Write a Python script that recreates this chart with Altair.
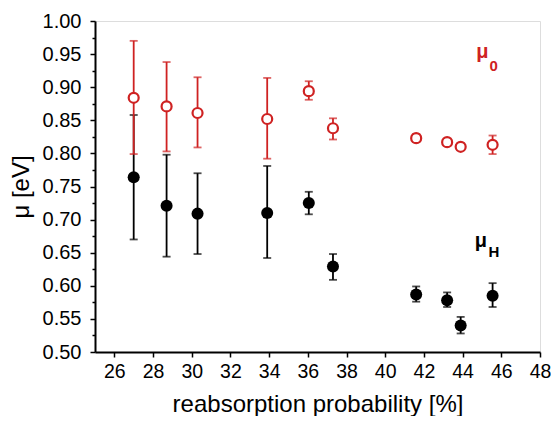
import altair as alt
import pandas as pd

# reabsorption probability [%]
x_vals = [27.0, 28.7, 30.3, 33.9, 36.05, 37.3, 41.6, 43.2, 43.9, 45.55]
# mu_0 (red, open circles)
mu0 = [0.884, 0.871, 0.861, 0.852, 0.894, 0.838, 0.823, 0.817, 0.810, 0.813]
mu0_lo = [0.799, 0.803, 0.809, 0.792, 0.881, 0.821, 0.817, 0.812, 0.805, 0.799]
mu0_hi = [0.970, 0.938, 0.915, 0.914, 0.909, 0.853, 0.829, 0.822, 0.815, 0.827]
# mu_H (black, filled circles)
muH = [0.764, 0.721, 0.709, 0.710, 0.725, 0.629, 0.587, 0.578, 0.540, 0.585]
muH_lo = [0.670, 0.644, 0.648, 0.642, 0.708, 0.609, 0.576, 0.568, 0.528, 0.568]
muH_hi = [0.858, 0.798, 0.770, 0.781, 0.742, 0.648, 0.599, 0.590, 0.553, 0.604]

x_ticks = list(range(26, 49))
y_major = [0.50, 0.55, 0.60, 0.65, 0.70, 0.75, 0.80, 0.85, 0.90, 0.95, 1.00]
y_minor = [0.525, 0.575, 0.625, 0.675, 0.725, 0.775, 0.825, 0.875, 0.925, 0.975]

RED = "#cf2222"
FONT = "Liberation Sans"

df0 = pd.DataFrame({"x": x_vals, "y": mu0, "lo": mu0_lo, "hi": mu0_hi})
dfH = pd.DataFrame({"x": x_vals, "y": muH, "lo": muH_lo, "hi": muH_hi})

xscale = alt.Scale(domain=[25, 48], nice=False, zero=False)
yscale = alt.Scale(domain=[0.5, 1.0], nice=False, zero=False)

common = dict(labelFont=FONT, titleFont=FONT, titleFontWeight="normal",
              labelColor="black", titleColor="black", tickColor="black",
              domainColor="black", domainWidth=2, tickWidth=1.5, grid=False,
              labelOverlap=False, labelFlush=False)

xaxis = alt.Axis(
    title="reabsorption probability [%]",
    values=x_ticks,
    labelExpr="datum.value % 2 === 0 ? datum.value : ''",
    tickSize={"condition": {"test": "datum.value % 2 === 0", "value": 5}, "value": 3},
    labelFontSize=19.5, titleFontSize=24, labelPadding=5, titlePadding=12,
    **common,
)
yaxis_major = alt.Axis(
    title="μ [eV]", orient="left", values=y_major, format=".2f",
    tickSize=5, labelFontSize=20, titleFontSize=24, labelPadding=9, titlePadding=9,
    **common,
)
yaxis_minor = alt.Axis(
    title=None, orient="left", values=y_minor, labels=False, domain=False,
    tickSize=3, tickWidth=1.5, tickColor="black", grid=False,
)

X = alt.X("x:Q", scale=xscale, axis=xaxis)


def Y(field, axis=None):
    return alt.Y(field, scale=yscale, axis=axis)


def series(df, color, filled, first):
    base = alt.Chart(df)
    bars = base.mark_rule(color=color, strokeWidth=1.8).encode(
        x=X, y=Y("lo:Q", yaxis_major if first else None), y2="hi:Q",
    )
    cap_lo = base.mark_tick(color=color, orient="horizontal", size=8, thickness=1.8).encode(
        x=X, y=Y("lo:Q", yaxis_minor if first else None)
    )
    cap_hi = base.mark_tick(color=color, orient="horizontal", size=8, thickness=1.8).encode(
        x=X, y=Y("hi:Q")
    )
    if filled:
        pts = base.mark_point(shape="circle", filled=True, color=color, size=145, opacity=1)
    else:
        pts = base.mark_point(shape="circle", filled=True, fill="white", stroke=color,
                              strokeWidth=2.2, size=100, opacity=1)
    pts = pts.encode(x=X, y=Y("y:Q"))
    return [bars, cap_lo, cap_hi, pts]


def label(main, sub, x0, y0, xs, ys, color):
    m = alt.Chart().mark_text(text=main, color=color, fontSize=20, fontWeight="bold",
                              font=FONT, align="left", baseline="alphabetic").encode(
        x=alt.datum(x0, scale=xscale), y=alt.datum(y0, scale=yscale, axis=None))
    s = alt.Chart().mark_text(text=sub, color=color, fontSize=15, fontWeight="bold",
                              font=FONT, align="left", baseline="alphabetic").encode(
        x=alt.datum(xs, scale=xscale), y=alt.datum(ys, scale=yscale, axis=None))
    return [m, s]


layers = series(dfH, "black", True, True) + series(df0, RED, False, False)
layers += label("μ", "0", 44.71, 0.9434, 45.39, 0.9245, RED)
layers += label("μ", "H", 44.63, 0.658, 45.34, 0.6435, "black")

chart = alt.layer(*layers).resolve_axis(y="independent").properties(
    width=445, height=331,
    autosize=alt.AutoSizeParams(type="none"),
    padding={"left": 87, "top": 13, "right": 11, "bottom": 64},
).configure_view(stroke="black", strokeWidth=2).configure(background="white")

chart.save("out.html", embed_options={"renderer": "svg", "actions": False})
